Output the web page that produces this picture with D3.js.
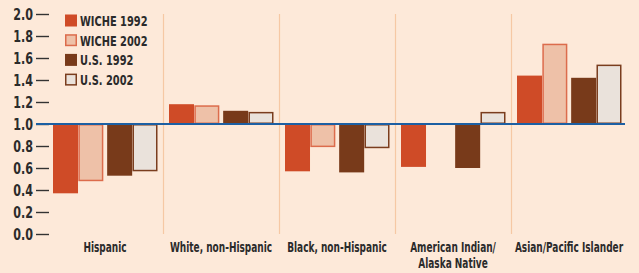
<!DOCTYPE html>
<html>
<head>
<meta charset="utf-8">
<script src="https://cdn.jsdelivr.net/npm/d3@7/dist/d3.min.js"></script>
<style>
  html, body { margin: 0; padding: 0; background: #FDE9D9; }
  svg { display: block; }
  text { font-family: "DejaVu Sans", sans-serif; font-weight: bold; fill: #2b2b2b; }
</style>
</head>
<body>
<svg id="chart" width="639" height="273"></svg>
<script>
// ---- data ----
const categories = ["Hispanic", "White, non-Hispanic", "Black, non-Hispanic", "American Indian/\nAlaska Native", "Asian/Pacific Islander"];
const seriesNames = ["WICHE 1992", "WICHE 2002", "U.S. 1992", "U.S. 2002"];
const wiche1992 = [0.37, 1.18, 0.57, 0.61, 1.44];
const wiche2002 = [0.48, 1.17, 0.79, null, 1.73];
const us1992    = [0.53, 1.12, 0.56, 0.60, 1.42];
const us2002    = [0.57, 1.11, 0.78, 1.11, 1.54];
const yTicks = [0.0, 0.2, 0.4, 0.6, 0.8, 1.0, 1.2, 1.4, 1.6, 1.8, 2.0];
const baselineValue = 1.0;

const seriesValues = [wiche1992, wiche2002, us1992, us2002];
const fills   = ["#CF4B27", "#EEC1A8", "#783A1A", "#EAE2DB"];
const strokes = ["#CF4B27", "#DC6C4C", "#783A1A", "#7A3D1E"];
const strokeW = [0, 1.5, 0, 1.5];

const svg = d3.select("#chart");
svg.append("rect").attr("width", 639).attr("height", 273).attr("fill", "#FDE9D9");

// condensed text helper: draws text at (x,y) squeezed horizontally
function ctext(parent, x, y, str, size, sx, anchor) {
  return parent.append("text")
    .attr("transform", `translate(${x},${y}) scale(${sx},1)`)
    .attr("font-size", size)
    .attr("text-anchor", anchor || "start")
    .text(str);
}

const y = d3.scaleLinear().domain([0, 2]).range([234, 14]);
const x0 = d3.scaleBand().domain(categories).range([47, 627]).padding(0);
const bw = x0.bandwidth();
const x1 = d3.scaleBand().domain(seriesNames).range([6, bw - 6]).paddingInner(0.05);
const pairShift = d3.scaleOrdinal().domain(seriesNames).range([0, -1, 1.5, 0.5]);

// category separators
svg.append("g").selectAll("line")
  .data(categories.slice(1))
  .join("line")
  .attr("x1", d => x0(d) + 0.5).attr("x2", d => x0(d) + 0.5)
  .attr("y1", y(2.0)).attr("y2", y(0))
  .attr("stroke", "#F6C8A4").attr("stroke-width", 1.2);

// y axis ticks
const yAxis = d3.axisLeft(y).tickValues(yTicks).tickFormat("").tickSize(13);
const gy = svg.append("g").attr("transform", "translate(49,0)").call(yAxis);
gy.select(".domain").remove();
gy.selectAll(".tick line").attr("stroke", "#333").attr("stroke-width", 1.4);
gy.selectAll(".tick").each(function(d) {
  ctext(d3.select(this), -16, 5.5, d3.format(".1f")(d), 15.5, 0.72, "end");
});

// bars
const barData = [];
categories.forEach((c, ci) => {
  seriesNames.forEach((s, si) => {
    const v = seriesValues[si][ci];
    if (v !== null && v !== undefined) barData.push({ c, s, si, v });
  });
});

svg.append("g").selectAll("rect")
  .data(barData)
  .join("rect")
  .attr("x", d => x0(d.c) + x1(d.s) + pairShift(d.s) + strokeW[d.si] / 2)
  .attr("width", d => x1.bandwidth() - strokeW[d.si])
  .attr("y", d => Math.min(y(d.v), y(baselineValue)) + strokeW[d.si] / 2)
  .attr("height", d => Math.max(0.5, Math.abs(y(d.v) - y(baselineValue)) - strokeW[d.si]))
  .attr("fill", d => fills[d.si])
  .attr("stroke", d => strokeW[d.si] ? strokes[d.si] : "none")
  .attr("stroke-width", d => strokeW[d.si]);

// baseline at 1.0
svg.append("line")
  .attr("x1", 36).attr("x2", 625)
  .attr("y1", y(baselineValue)).attr("y2", y(baselineValue))
  .attr("stroke", "#1C5FA3").attr("stroke-width", 2.2);

// category labels
const xAxisG = svg.append("g");
categories.forEach(c => {
  c.split("\n").forEach((ln, i) => {
    ctext(xAxisG, x0(c) + bw / 2, 252 + i * 16, ln, 14.5, 0.62, "middle");
  });
});

// legend
const legend = svg.append("g").attr("transform", "translate(65,14.5)");
seriesNames.forEach((s, i) => {
  const g = legend.append("g").attr("transform", `translate(0,${i * 19.7})`);
  g.append("rect")
    .attr("x", strokeW[i] / 2).attr("y", strokeW[i] / 2)
    .attr("width", 12 - strokeW[i]).attr("height", 12 - strokeW[i])
    .attr("fill", fills[i])
    .attr("stroke", strokeW[i] ? strokes[i] : "none")
    .attr("stroke-width", strokeW[i]);
  ctext(g, 15, 11.5, s, 14.5, 0.68, "start");
});
</script>
</body>
</html>
